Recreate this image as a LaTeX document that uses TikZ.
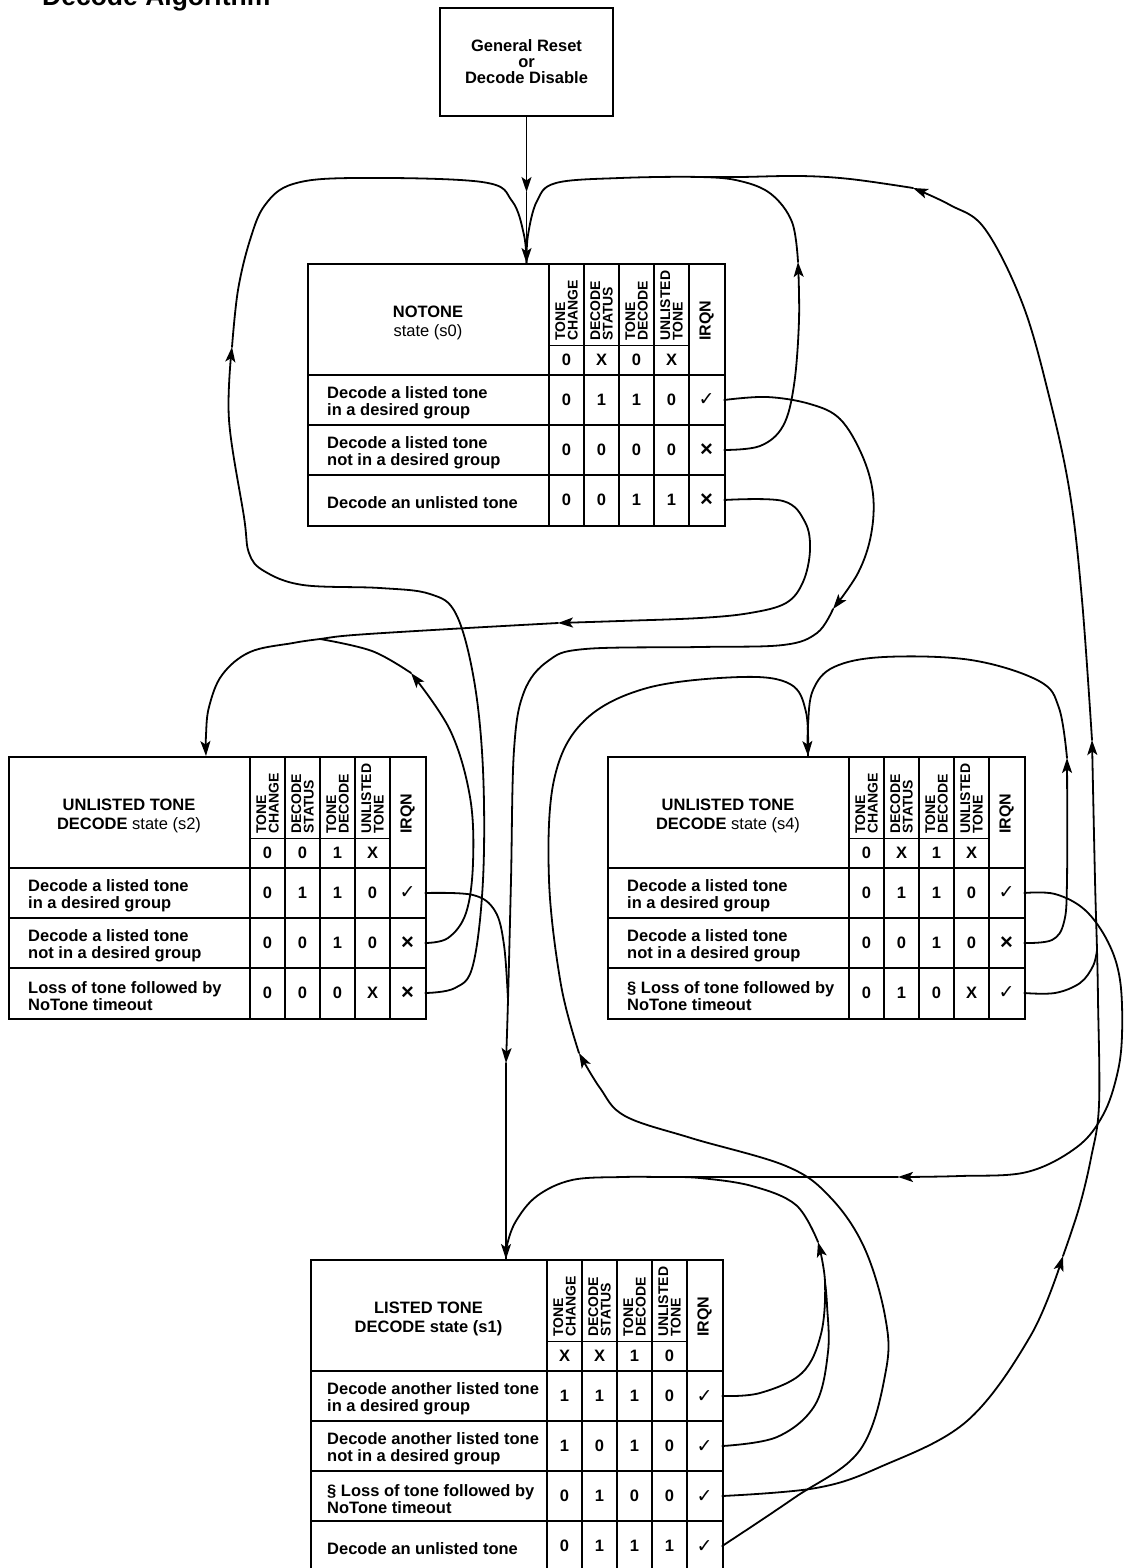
\documentclass[tikz,border=0pt]{standalone}
\usepackage{fontspec}
\setmainfont{Liberation Sans}
\newfontfamily\symfont{DejaVu Sans}
\usetikzlibrary{arrows.meta,calc}

\newcommand\LW{242}
\newcommand\LX{20}
\newcommand\rowfont{\bfseries\fontsize{16.5}{17.5}\selectfont}
\newcommand\titlefont{\fontsize{16.5}{19.5}\selectfont}
\newcommand\hdrfont{\bfseries\fontsize{14}{12.5}\selectfont}
\newcommand\ck{{\symfont\fontsize{19}{19}\selectfont ✓}}
\newcommand\xx{{\bfseries\fontsize{22}{22}\selectfont ×}}

\tikzset{
 wire/.style={line width=1.8pt, line cap=round, line join=round},
 arr/.style={-{Stealth[length=15pt,width=10pt,inset=3.5pt]}},
 tabbox/.style={draw, line width=2pt, inner sep=0pt, anchor=north west},
 sep/.style={line width=2pt},
 subsep/.style={line width=1pt},
 cell/.style={inner sep=0pt, minimum width=35pt, minimum height=50pt},
 val/.style={font=\rowfont, inner sep=0pt},
 hdr/.style={rotate=90, anchor=west, align=left, inner sep=0pt, font=\hdrfont},
}

\newcommand\stateframe[7]{%
  \node[tabbox, minimum width={(\LW+175)*1pt}, minimum height={(112+50*#7)*1pt}] (#1) at (0,0) {};
  \foreach \k in {0,...,4}{\draw[sep] ({\LW+35*\k},0) -- ({\LW+35*\k},{112+50*#7});}
  \draw[subsep] (\LW,82) -- ({\LW+140},82);
  \draw[sep] (0,112) -- ({\LW+175},112);
  \foreach \k in {2,...,#7}{\draw[sep] (0,{62+50*\k}) -- ({\LW+175},{62+50*\k});}
  \node[font=\titlefont, align=center, inner sep=0pt] (#1t) at ({\LW/2},60) {#2};
  \node[hdr] at ({\LW+17.5},78) {TONE\\CHANGE};
  \node[hdr] at ({\LW+52.5},78) {DECODE\\STATUS};
  \node[hdr] at ({\LW+87.5},78) {TONE\\DECODE};
  \node[hdr] at ({\LW+122.5},78) {UNLISTED\\TONE};
  \node[hdr, font=\bfseries\fontsize{16}{16}\selectfont] at ({\LW+157.5},78) {IRQN};
  \node[val] at ({\LW+17.5},97) {#3};
  \node[val] at ({\LW+52.5},97) {#4};
  \node[val] at ({\LW+87.5},97) {#5};
  \node[val] at ({\LW+122.5},97) {#6};
}

\newcommand\staterow[8]{%
  \node[anchor=west, align=left, font=\rowfont, inner sep=0pt] (#1r#2) at (\LX,{90+50*#2}) {#3};
  \node[val] at ({\LW+17.5},{87+50*#2}) {#4};
  \node[val] at ({\LW+52.5},{87+50*#2}) {#5};
  \node[val] at ({\LW+87.5},{87+50*#2}) {#6};
  \node[val] at ({\LW+122.5},{87+50*#2}) {#7};
  \node[cell] (#1i#2) at ({\LW+157.5},{87+50*#2}) {#8};
}

\begin{document}
\begin{tikzpicture}[x=1pt,y=-1pt]
\fill[white] (0,0) rectangle (1125,1568);
\useasboundingbox (0,0) rectangle (1125,1568);

\node[anchor=base west, inner sep=0pt, font=\bfseries\fontsize{26.5}{26.5}\selectfont] (title) at (42,6) {Decode Algorithm};

\node[draw, line width=2pt, minimum width=173pt, minimum height=108pt, inner sep=0pt, align=center,
      font=\bfseries\fontsize{16.5}{16}\selectfont] (reset) at (526.5,62) {General Reset\\or\\Decode Disable};

\begin{scope}[shift={(307,263)}]
 \stateframe{s0}{\textbf{NOTONE}\\state (s0)}{0}{X}{0}{X}{3}
 \staterow{s0}{1}{Decode a listed tone\\in a desired group}{0}{1}{1}{0}{\ck}
 \staterow{s0}{2}{Decode a listed tone\\not in a desired group}{0}{0}{0}{0}{\xx}
 \staterow{s0}{3}{Decode an unlisted tone}{0}{0}{1}{1}{\xx}
\end{scope}

\begin{scope}[shift={(8,756)}]
 \stateframe{s2}{\textbf{UNLISTED TONE}\\\textbf{DECODE} state (s2)}{0}{0}{1}{X}{3}
 \staterow{s2}{1}{Decode a listed tone\\in a desired group}{0}{1}{1}{0}{\ck}
 \staterow{s2}{2}{Decode a listed tone\\not in a desired group}{0}{0}{1}{0}{\xx}
 \staterow{s2}{3}{Loss of tone followed by\\NoTone timeout}{0}{0}{0}{X}{\xx}
\end{scope}

\begin{scope}[shift={(607,756)}]
 \stateframe{s4}{\textbf{UNLISTED TONE}\\\textbf{DECODE} state (s4)}{0}{X}{1}{X}{3}
 \staterow{s4}{1}{Decode a listed tone\\in a desired group}{0}{1}{1}{0}{\ck}
 \staterow{s4}{2}{Decode a listed tone\\not in a desired group}{0}{0}{1}{0}{\xx}
 \staterow{s4}{3}{§ Loss of tone followed by\\NoTone timeout}{0}{1}{0}{X}{\ck}
\end{scope}

\begin{scope}[shift={(310,1259)}]
 \renewcommand\LW{237}\renewcommand\LX{17}
 \stateframe{s1}{\textbf{LISTED TONE}\\\textbf{DECODE state (s1)}}{X}{X}{1}{0}{4}
 \staterow{s1}{1}{Decode another listed tone\\in a desired group}{1}{1}{1}{0}{\ck}
 \staterow{s1}{2}{Decode another listed tone\\not in a desired group}{1}{0}{1}{0}{\ck}
 \staterow{s1}{3}{§ Loss of tone followed by\\NoTone timeout}{0}{1}{0}{0}{\ck}
 \staterow{s1}{4}{Decode an unlisted tone}{0}{1}{1}{1}{\ck}
\end{scope}

% entry points and arrow points
\coordinate (m1) at (526.5,192);
\coordinate (s0in) at (m1 |- s0.north);
\coordinate (s2in) at ($(s2.north west)+(198,0)$);
\coordinate (s4in) at ($(s4.north west)+(201,0)$);
\coordinate (m2a) at (833,609);
\coordinate (m2b) at (506,1063);
\coordinate (s1in) at (m2b |- s1.north);
\coordinate (m3) at (798,262);
\coordinate (m4) at (558,623);
\coordinate (m6) at (411,673);
\coordinate (m7) at (232,347);
\coordinate (m8) at (898,1177);
\coordinate (m9) at (1067,758);
\coordinate (m11) at (818,1242);
\coordinate (m13a) at (1063,1256);
\coordinate (m13b) at (1092,740);
\coordinate (m13c) at (913,188);
\coordinate (m14) at (579,1053);
\coordinate (j5) at (508,1000);
\coordinate (j6) at (320,639);
\coordinate (j10) at (1097,950);
\coordinate (j11) at (665,1177);
\coordinate (j12) at (825,1282);
\coordinate (j13) at (700,177);

% reset -> s0
\draw[wire,arr] (reset.south) -- (m1);
\draw[wire,arr] (m1) -- (s0in);

% s0 row2 -> s0
\draw[wire,arr] plot[smooth,tension=0.6] coordinates {(s0i2.east) (760,446) (783,426) (794,385) (799,320) (m3)};
\draw[wire] plot[smooth,tension=0.6] coordinates {(m3) (792,222) (771,194) (740,181) (j13) (620,178) (556,183) (537,201) (528,235) (s0in)};

% s2 row3 -> s0
\draw[wire,arr] plot[smooth,tension=0.6] coordinates {(s2i3.east) (455,988) (473,965) (483,880) (483,770) (474,680) (456,614) (430,594) (380,588) (303,585) (264,571) (249,553) (244,517) (229,420) (m7)};
\draw[wire] plot[smooth,tension=0.6] coordinates {(m7) (238,290) (250,240) (265,205) (293,184) (354,178) (482,182) (512,201) (524,235) (s0in)};

% s0 row1 -> s1
\draw[wire,arr] plot[smooth,tension=0.6] coordinates {(s0i1.east) (767,397) (810,404) (840,419) (862,455) (873,494) (871,535) (858,573) (m2a)};
\draw[wire,arr] plot[smooth,tension=0.6] coordinates {(m2a) (817,633) (783,645) (700,647) (585,649) (548,661) (524,692) (514,750) (511,880) (j5) (m2b)};
\draw[wire,arr] (m2b) -- (s1in);

% s2 row1 -> s1
\draw[wire] plot[smooth,tension=0.6] coordinates {(s2i1.east) (473,895) (495,911) (504,945) (j5)};

% s0 row3 -> s2
\draw[wire,arr] plot[smooth,tension=0.6] coordinates {(s0i3.east) (783,501) (805,522) (810,550) (803,582) (786,603) (750,613) (700,618) (620,621) (m4)};
\draw[wire,arr] plot[smooth,tension=0.6] coordinates {(m4) (450,629) (354,635) (j6) (293,643) (250,652) (222,675) (209,707) (206,735) (s2in)};

% s2 row2 -> s2
\draw[wire,arr] plot[smooth,tension=0.6] coordinates {(s2i2.east) (448,938) (466,913) (473,863) (470,797) (450,730) (m6)};
\draw[wire] plot[smooth,tension=0.6] coordinates {(m6) (372,651) (j6)};

% s1 row3 -> s0 (right side)
\draw[wire,arr] plot[smooth,tension=0.6] coordinates {(s1i3.east) (816,1488) (880,1467) (967,1421) (1031,1335) (m13a)};
\draw[wire,arr] plot[smooth,tension=0.6] coordinates {(m13a) (1079,1208) (1091,1158) (1099,1105) (1098,1000) (j10) (1095,880) (m13b)};
\draw[wire,arr] plot[smooth,tension=0.6] coordinates {(m13b) (1082,600) (1070,494) (1050,400) (1023,305) (985,229) (950,205) (m13c)};
\draw[wire] plot[smooth,tension=0.6] coordinates {(m13c) (850,179) (800,176) (740,177) (j13)};

% s4 row3 -> s0
\draw[wire] plot[smooth,tension=0.6] coordinates {(s4i3.east) (1055,993) (1080,983) (1093,966) (j10)};

% s4 row1 -> s1
\draw[wire,arr] plot[smooth,tension=0.6] coordinates {(s4i1.east) (1055,894) (1085,910) (1108,942) (1120,980) (1122,1035) (1117,1075) (1103,1115) (1077,1147) (1027,1172) (960,1176) (m8)};
\draw[wire] plot[smooth,tension=0.6] coordinates {(m8) (800,1177) (700,1177) (j11) (622,1177) (572,1180) (537,1196) (516,1221) (507,1245) (s1in)};

% s4 row2 -> s4
\draw[wire,arr] plot[smooth,tension=0.6] coordinates {(s4i2.east) (1052,940) (1064,922) (1067,880) (m9)};
\draw[wire,arr] plot[smooth,tension=0.6] coordinates {(m9) (1059,708) (1039,681) (971,660) (884,657) (834,667) (813,690) (808,725) (s4in)};

% s1 row4 -> s4
\draw[wire,arr] plot[smooth,tension=0.6] coordinates {(s1i4.east) (794,1498) (860,1450) (886,1370) (885,1316) (864,1247) (830,1197) (786,1166) (691,1138) (625,1116) (600,1088) (m14)};
\draw[wire] plot[smooth,tension=0.6] coordinates {(m14) (561,985) (549,880) (554,780) (584,721) (647,688) (741,677) (790,684) (806,712) (s4in)};

% s1 row1 -> s1
\draw[wire,arr] plot[smooth,tension=0.6] coordinates {(s1i1.east) (760,1393) (802,1373) (821,1334) (j12) (m11)};
\draw[wire] plot[smooth,tension=0.6] coordinates {(m11) (796,1205) (752,1186) (700,1178) (j11)};

% s1 row2 -> s1
\draw[wire] plot[smooth,tension=0.6] coordinates {(s1i2.east) (777,1437) (815,1405) (828,1352) (827,1305) (j12)};
\end{tikzpicture}
\end{document}
